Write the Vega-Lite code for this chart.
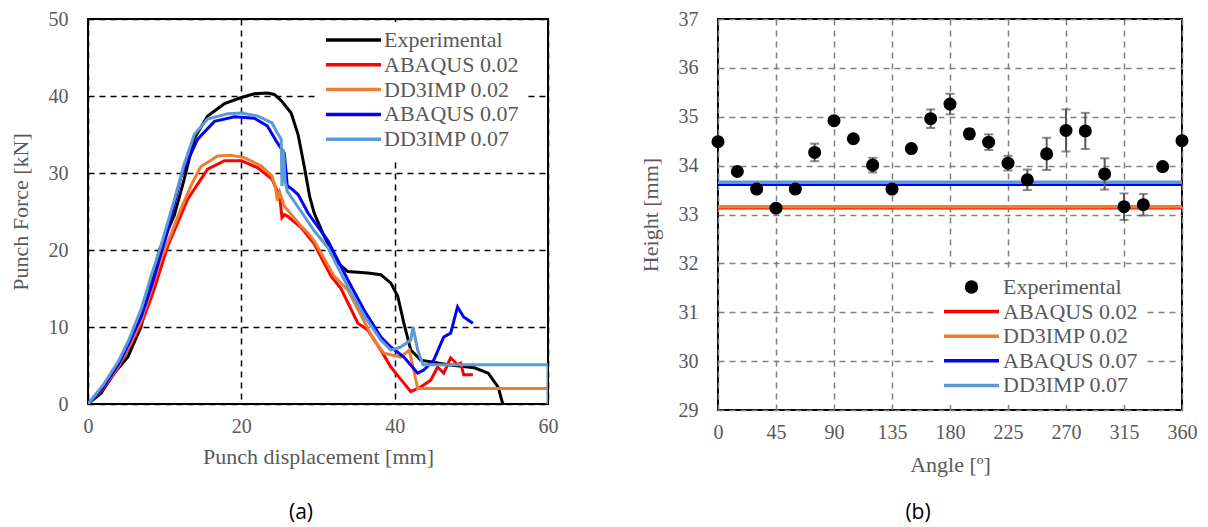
{
  "$schema": "https://vega.github.io/schema/vega-lite/v6.json",
  "padding": {"left": 8, "top": 8, "right": 5, "bottom": 5},
  "bounds": "flush",
  "spacing": 170,
  "datasets": {
    "force": [
      {"s":"Experimental","i":0,"d":0,"f":0},{"s":"Experimental","i":1,"d":1.7,"f":1.4},{"s":"Experimental","i":2,"d":3.4,"f":4},{"s":"Experimental","i":3,"d":5.2,"f":6.1},{"s":"Experimental","i":4,"d":6.9,"f":10},{"s":"Experimental","i":5,"d":8.2,"f":15.5},{"s":"Experimental","i":6,"d":9.3,"f":20},{"s":"Experimental","i":7,"d":11.26,"f":24.5},{"s":"Experimental","i":8,"d":12.5,"f":29},{"s":"Experimental","i":9,"d":13.87,"f":34.5},{"s":"Experimental","i":10,"d":15.6,"f":37.4},{"s":"Experimental","i":11,"d":17.8,"f":39},{"s":"Experimental","i":12,"d":20,"f":39.8},{"s":"Experimental","i":13,"d":21.7,"f":40.3},{"s":"Experimental","i":14,"d":23.4,"f":40.4},{"s":"Experimental","i":15,"d":24.3,"f":40.2},{"s":"Experimental","i":16,"d":25.2,"f":39.4},{"s":"Experimental","i":17,"d":26.5,"f":37.8},{"s":"Experimental","i":18,"d":27.4,"f":35},{"s":"Experimental","i":19,"d":28.2,"f":30.9},{"s":"Experimental","i":20,"d":28.9,"f":27},{"s":"Experimental","i":21,"d":29.5,"f":24.8},{"s":"Experimental","i":22,"d":30.8,"f":21.8},{"s":"Experimental","i":23,"d":32.6,"f":18.3},{"s":"Experimental","i":24,"d":33.9,"f":17.2},{"s":"Experimental","i":25,"d":36.5,"f":17},{"s":"Experimental","i":26,"d":38.2,"f":16.8},{"s":"Experimental","i":27,"d":39.5,"f":15.7},{"s":"Experimental","i":28,"d":40.4,"f":14},{"s":"Experimental","i":29,"d":41.2,"f":10.5},{"s":"Experimental","i":30,"d":42.1,"f":7},{"s":"Experimental","i":31,"d":43.4,"f":5.7},{"s":"Experimental","i":32,"d":47,"f":5.1},{"s":"Experimental","i":33,"d":50.4,"f":4.7},{"s":"Experimental","i":34,"d":52.2,"f":4},{"s":"Experimental","i":35,"d":53.5,"f":2.2},{"s":"Experimental","i":36,"d":54.1,"f":0},
      {"s":"ABAQUS 0.02","i":0,"d":0,"f":0},{"s":"ABAQUS 0.02","i":1,"d":2,"f":2},{"s":"ABAQUS 0.02","i":2,"d":4,"f":4.8},{"s":"ABAQUS 0.02","i":3,"d":5.6,"f":7.8},{"s":"ABAQUS 0.02","i":4,"d":7,"f":10.5},{"s":"ABAQUS 0.02","i":5,"d":8.5,"f":14.5},{"s":"ABAQUS 0.02","i":6,"d":10.4,"f":20.5},{"s":"ABAQUS 0.02","i":7,"d":13,"f":26.6},{"s":"ABAQUS 0.02","i":8,"d":15.6,"f":30.5},{"s":"ABAQUS 0.02","i":9,"d":17.8,"f":31.6},{"s":"ABAQUS 0.02","i":10,"d":20,"f":31.6},{"s":"ABAQUS 0.02","i":11,"d":22.1,"f":30.7},{"s":"ABAQUS 0.02","i":12,"d":24,"f":29.2},{"s":"ABAQUS 0.02","i":13,"d":25,"f":27},{"s":"ABAQUS 0.02","i":14,"d":25.3,"f":24.2},{"s":"ABAQUS 0.02","i":15,"d":25.6,"f":24.6},{"s":"ABAQUS 0.02","i":16,"d":26,"f":24.4},{"s":"ABAQUS 0.02","i":17,"d":27.8,"f":22.9},{"s":"ABAQUS 0.02","i":18,"d":29.5,"f":20.8},{"s":"ABAQUS 0.02","i":19,"d":31.7,"f":16.6},{"s":"ABAQUS 0.02","i":20,"d":33,"f":15},{"s":"ABAQUS 0.02","i":21,"d":35.2,"f":10.5},{"s":"ABAQUS 0.02","i":22,"d":36.5,"f":9.6},{"s":"ABAQUS 0.02","i":23,"d":38.2,"f":7},{"s":"ABAQUS 0.02","i":24,"d":39.5,"f":4.8},{"s":"ABAQUS 0.02","i":25,"d":40.8,"f":3.2},{"s":"ABAQUS 0.02","i":26,"d":42.1,"f":1.6},{"s":"ABAQUS 0.02","i":27,"d":43.4,"f":2.2},{"s":"ABAQUS 0.02","i":28,"d":44.7,"f":3.1},{"s":"ABAQUS 0.02","i":29,"d":45.6,"f":4.8},{"s":"ABAQUS 0.02","i":30,"d":46.4,"f":4},{"s":"ABAQUS 0.02","i":31,"d":47.3,"f":6},{"s":"ABAQUS 0.02","i":32,"d":48.2,"f":5.1},{"s":"ABAQUS 0.02","i":33,"d":48.6,"f":5.3},{"s":"ABAQUS 0.02","i":34,"d":49,"f":3.8},{"s":"ABAQUS 0.02","i":35,"d":50.2,"f":3.8},
      {"s":"DD3IMP 0.02","i":0,"d":0,"f":0},{"s":"DD3IMP 0.02","i":1,"d":2,"f":2.2},{"s":"DD3IMP 0.02","i":2,"d":4,"f":5},{"s":"DD3IMP 0.02","i":3,"d":5.6,"f":8},{"s":"DD3IMP 0.02","i":4,"d":7,"f":11},{"s":"DD3IMP 0.02","i":5,"d":8.3,"f":15},{"s":"DD3IMP 0.02","i":6,"d":9.5,"f":18.8},{"s":"DD3IMP 0.02","i":7,"d":10.8,"f":22},{"s":"DD3IMP 0.02","i":8,"d":12.1,"f":25.3},{"s":"DD3IMP 0.02","i":9,"d":13.5,"f":28.5},{"s":"DD3IMP 0.02","i":10,"d":14.7,"f":30.8},{"s":"DD3IMP 0.02","i":11,"d":16.9,"f":32.2},{"s":"DD3IMP 0.02","i":12,"d":18.6,"f":32.3},{"s":"DD3IMP 0.02","i":13,"d":20.4,"f":32},{"s":"DD3IMP 0.02","i":14,"d":22.6,"f":30.9},{"s":"DD3IMP 0.02","i":15,"d":24,"f":29.6},{"s":"DD3IMP 0.02","i":16,"d":24.5,"f":27.9},{"s":"DD3IMP 0.02","i":17,"d":24.7,"f":26.4},{"s":"DD3IMP 0.02","i":18,"d":25,"f":27.5},{"s":"DD3IMP 0.02","i":19,"d":25.6,"f":25.7},{"s":"DD3IMP 0.02","i":20,"d":27.8,"f":23.1},{"s":"DD3IMP 0.02","i":21,"d":28.7,"f":22.2},{"s":"DD3IMP 0.02","i":22,"d":29.5,"f":21.2},{"s":"DD3IMP 0.02","i":23,"d":32.1,"f":16.6},{"s":"DD3IMP 0.02","i":24,"d":33.9,"f":14.8},{"s":"DD3IMP 0.02","i":25,"d":37.3,"f":8.3},{"s":"DD3IMP 0.02","i":26,"d":38.6,"f":6.6},{"s":"DD3IMP 0.02","i":27,"d":40.8,"f":6.1},{"s":"DD3IMP 0.02","i":28,"d":41.9,"f":7},{"s":"DD3IMP 0.02","i":29,"d":42.4,"f":4.8},{"s":"DD3IMP 0.02","i":30,"d":43,"f":2},{"s":"DD3IMP 0.02","i":31,"d":60,"f":2},
      {"s":"ABAQUS 0.07","i":0,"d":0,"f":0},{"s":"ABAQUS 0.07","i":1,"d":2,"f":2.2},{"s":"ABAQUS 0.07","i":2,"d":4,"f":5.2},{"s":"ABAQUS 0.07","i":3,"d":5.4,"f":8},{"s":"ABAQUS 0.07","i":4,"d":7,"f":11.5},{"s":"ABAQUS 0.07","i":5,"d":8.5,"f":16},{"s":"ABAQUS 0.07","i":6,"d":9.5,"f":19.5},{"s":"ABAQUS 0.07","i":7,"d":10.4,"f":22.5},{"s":"ABAQUS 0.07","i":8,"d":12.1,"f":29.4},{"s":"ABAQUS 0.07","i":9,"d":13,"f":31.6},{"s":"ABAQUS 0.07","i":10,"d":14.3,"f":34.4},{"s":"ABAQUS 0.07","i":11,"d":16.5,"f":36.7},{"s":"ABAQUS 0.07","i":12,"d":19.1,"f":37.3},{"s":"ABAQUS 0.07","i":13,"d":21.7,"f":37.1},{"s":"ABAQUS 0.07","i":14,"d":23.4,"f":36.1},{"s":"ABAQUS 0.07","i":15,"d":24.7,"f":33.9},{"s":"ABAQUS 0.07","i":16,"d":25.6,"f":32.6},{"s":"ABAQUS 0.07","i":17,"d":26,"f":28.3},{"s":"ABAQUS 0.07","i":18,"d":26.5,"f":28},{"s":"ABAQUS 0.07","i":19,"d":27.4,"f":27.2},{"s":"ABAQUS 0.07","i":20,"d":28.7,"f":24.8},{"s":"ABAQUS 0.07","i":21,"d":31.3,"f":21.2},{"s":"ABAQUS 0.07","i":22,"d":33.9,"f":16.1},{"s":"ABAQUS 0.07","i":23,"d":36,"f":12.2},{"s":"ABAQUS 0.07","i":24,"d":38.2,"f":8.7},{"s":"ABAQUS 0.07","i":25,"d":39.5,"f":7.4},{"s":"ABAQUS 0.07","i":26,"d":41.2,"f":6.1},{"s":"ABAQUS 0.07","i":27,"d":43,"f":4},{"s":"ABAQUS 0.07","i":28,"d":43.8,"f":4.4},{"s":"ABAQUS 0.07","i":29,"d":45.1,"f":5.7},{"s":"ABAQUS 0.07","i":30,"d":46.4,"f":8.7},{"s":"ABAQUS 0.07","i":31,"d":47.3,"f":9.2},{"s":"ABAQUS 0.07","i":32,"d":48.2,"f":12.6},{"s":"ABAQUS 0.07","i":33,"d":49,"f":11.3},{"s":"ABAQUS 0.07","i":34,"d":50.2,"f":10.5},
      {"s":"DD3IMP 0.07","i":0,"d":0,"f":0},{"s":"DD3IMP 0.07","i":1,"d":2,"f":2.5},{"s":"DD3IMP 0.07","i":2,"d":4,"f":5.6},{"s":"DD3IMP 0.07","i":3,"d":5.4,"f":8.5},{"s":"DD3IMP 0.07","i":4,"d":7,"f":12.5},{"s":"DD3IMP 0.07","i":5,"d":8.2,"f":16.5},{"s":"DD3IMP 0.07","i":6,"d":9.5,"f":20.5},{"s":"DD3IMP 0.07","i":7,"d":11.26,"f":26.5},{"s":"DD3IMP 0.07","i":8,"d":12.5,"f":31},{"s":"DD3IMP 0.07","i":9,"d":13.87,"f":35},{"s":"DD3IMP 0.07","i":10,"d":15.6,"f":37},{"s":"DD3IMP 0.07","i":11,"d":18.2,"f":37.7},{"s":"DD3IMP 0.07","i":12,"d":20,"f":37.8},{"s":"DD3IMP 0.07","i":13,"d":22.1,"f":37.4},{"s":"DD3IMP 0.07","i":14,"d":24,"f":36.5},{"s":"DD3IMP 0.07","i":15,"d":24.7,"f":35.2},{"s":"DD3IMP 0.07","i":16,"d":25.2,"f":34.4},{"s":"DD3IMP 0.07","i":17,"d":25.3,"f":28.3},{"s":"DD3IMP 0.07","i":18,"d":25.5,"f":33},{"s":"DD3IMP 0.07","i":19,"d":25.7,"f":29},{"s":"DD3IMP 0.07","i":20,"d":26,"f":27.6},{"s":"DD3IMP 0.07","i":21,"d":27.8,"f":25},{"s":"DD3IMP 0.07","i":22,"d":29.5,"f":22.5},{"s":"DD3IMP 0.07","i":23,"d":31.3,"f":20.3},{"s":"DD3IMP 0.07","i":24,"d":33.9,"f":15.2},{"s":"DD3IMP 0.07","i":25,"d":36,"f":11.5},{"s":"DD3IMP 0.07","i":26,"d":38.2,"f":8.3},{"s":"DD3IMP 0.07","i":27,"d":39.5,"f":7},{"s":"DD3IMP 0.07","i":28,"d":40.8,"f":7.4},{"s":"DD3IMP 0.07","i":29,"d":42.1,"f":8.3},{"s":"DD3IMP 0.07","i":30,"d":42.4,"f":10},{"s":"DD3IMP 0.07","i":31,"d":43,"f":7},{"s":"DD3IMP 0.07","i":32,"d":43.7,"f":5.1},{"s":"DD3IMP 0.07","i":33,"d":60,"f":5.1},{"s":"DD3IMP 0.07","i":34,"d":60,"f":0}
    ],
    "lines": [
      {"s":"ABAQUS 0.02","a":0,"h":33.14},{"s":"ABAQUS 0.02","a":360,"h":33.14},
      {"s":"DD3IMP 0.02","a":0,"h":33.16},{"s":"DD3IMP 0.02","a":360,"h":33.16},
      {"s":"ABAQUS 0.07","a":0,"h":33.62},{"s":"ABAQUS 0.07","a":360,"h":33.62},
      {"s":"DD3IMP 0.07","a":0,"h":33.66},{"s":"DD3IMP 0.07","a":360,"h":33.66}
    ],
    "exp": [
      {"s":"Experimental","a":0,"h":34.49,"e":0.05},{"s":"Experimental","a":15,"h":33.88,"e":0.05},{"s":"Experimental","a":30,"h":33.52,"e":0.05},{"s":"Experimental","a":45,"h":33.13,"e":0.05},{"s":"Experimental","a":60,"h":33.52,"e":0.05},{"s":"Experimental","a":75,"h":34.27,"e":0.18},{"s":"Experimental","a":90,"h":34.92,"e":0.05},{"s":"Experimental","a":105,"h":34.55,"e":0.05},{"s":"Experimental","a":120,"h":34.01,"e":0.15},{"s":"Experimental","a":135,"h":33.52,"e":0.05},{"s":"Experimental","a":150,"h":34.35,"e":0.05},{"s":"Experimental","a":165,"h":34.96,"e":0.19},{"s":"Experimental","a":180,"h":35.26,"e":0.21},{"s":"Experimental","a":195,"h":34.65,"e":0.1},{"s":"Experimental","a":210,"h":34.48,"e":0.16},{"s":"Experimental","a":225,"h":34.05,"e":0.15},{"s":"Experimental","a":240,"h":33.71,"e":0.21},{"s":"Experimental","a":255,"h":34.24,"e":0.33},{"s":"Experimental","a":270,"h":34.72,"e":0.43},{"s":"Experimental","a":285,"h":34.71,"e":0.37},{"s":"Experimental","a":300,"h":33.83,"e":0.32},{"s":"Experimental","a":315,"h":33.16,"e":0.27},{"s":"Experimental","a":330,"h":33.2,"e":0.22},{"s":"Experimental","a":345,"h":33.98,"e":0.05},{"s":"Experimental","a":360,"h":34.51,"e":0.05}
    ]
  },
  "resolve": {"scale": {"color": "independent"}, "legend": {"color": "independent"}},
  "hconcat": [
    {
      "width": 460,
      "height": 385,
      "title": {"text": "(a)", "orient": "bottom", "anchor": "middle", "dx": -17, "offset": 35, "font": "Open Sans", "fontSize": 21, "fontWeight": "normal", "color": "#000000"},
      "layer": [
        {
          "data": {"name": "force"},
          "mark": {"type": "line", "strokeWidth": 3, "clip": true},
          "encoding": {
            "x": {"field": "d", "type": "quantitative", "scale": {"domain": [0, 60], "nice": false},
                  "axis": {"values": [0, 20, 40, 60], "title": "Punch displacement [mm]", "gridColor": "#000000", "labelPadding": 12, "titlePadding": 10, "labelFlush": false}},
            "y": {"field": "f", "type": "quantitative", "scale": {"domain": [0, 50], "nice": false},
                  "axis": {"values": [0, 10, 20, 30, 40, 50], "title": "Punch Force [kN]", "gridColor": "#000000", "labelPadding": 20, "titlePadding": 16}},
            "color": {"field": "s", "type": "nominal",
                      "scale": {"domain": ["Experimental", "ABAQUS 0.02", "DD3IMP 0.02", "ABAQUS 0.07", "DD3IMP 0.07"], "range": ["#000000", "#FF0000", "#ED7D31", "#0000FF", "#5B9BD5"]},
                      "legend": {"title": null, "orient": "none", "legendX": 230, "legendY": 3, "fillColor": "#FFFFFF", "symbolType": "stroke", "symbolSize": 3025, "symbolStrokeWidth": 3.5, "clipHeight": 20, "rowPadding": 2.8, "labelOffset": 4, "labelFont": "Liberation Serif", "labelFontSize": 22, "labelColor": "#595959", "padding": 8,
                                 "encode": {"symbols": {"update": {"x": {"value": 27.5}}}, "labels": {"update": {"x": {"value": 58}}}}}},
            "order": {"field": "i", "type": "quantitative"}
          }
        }
      ]
    },
    {
      "width": 464,
      "height": 391,
      "title": {"text": "(b)", "orient": "bottom", "anchor": "middle", "dx": -32, "offset": 27, "font": "Open Sans", "fontSize": 21, "fontWeight": "normal", "color": "#000000"},
      "encoding": {
        "x": {"field": "a", "type": "quantitative", "scale": {"domain": [0, 360], "nice": false},
              "axis": {"values": [0, 45, 90, 135, 180, 225, 270, 315, 360], "title": "Angle [º]", "gridColor": "#808080", "labelPadding": 12, "titlePadding": 12, "labelFlush": false}},
        "y": {"field": "h", "type": "quantitative", "scale": {"domain": [29, 37], "nice": false, "zero": false},
              "axis": {"values": [29, 30, 31, 32, 33, 34, 35, 36, 37], "title": "Height [mm]", "gridColor": "#808080", "labelPadding": 20, "titlePadding": 16}}
      },
      "layer": [
        {
          "data": {"name": "lines"},
          "mark": {"type": "line", "strokeWidth": 3.5},
          "encoding": {
            "color": {"field": "s", "type": "nominal",
                      "scale": {"domain": ["Experimental", "ABAQUS 0.02", "DD3IMP 0.02", "ABAQUS 0.07", "DD3IMP 0.07"], "range": ["#000000", "#FF0000", "#ED7D31", "#0000FF", "#5B9BD5"]},
                      "legend": {"title": null, "orient": "none", "legendX": 218, "legendY": 250, "fillColor": "#FFFFFF", "symbolType": "stroke", "symbolSize": 3025, "symbolStrokeWidth": 3.5, "clipHeight": 20, "rowPadding": 2.6, "labelOffset": 4, "labelFont": "Liberation Serif", "labelFontSize": 22, "labelColor": "#595959", "padding": 8,
                                 "encode": {"symbols": {"update": {
                                   "x": {"value": 27.5},
                                   "shape": {"signal": "datum.value === 'Experimental' ? 'circle' : 'stroke'"},
                                   "size": {"signal": "datum.value === 'Experimental' ? 180 : 3025"},
                                   "fill": {"signal": "datum.value === 'Experimental' ? '#000000' : 'transparent'"},
                                   "stroke": {"signal": "datum.value === 'Experimental' ? '#000000' : datum.value === 'ABAQUS 0.02' ? '#FF0000' : datum.value === 'DD3IMP 0.02' ? '#ED7D31' : datum.value === 'ABAQUS 0.07' ? '#0000FF' : '#5B9BD5'"},
                                   "strokeWidth": {"signal": "datum.value === 'Experimental' ? 0 : 3.5"},
                                   "opacity": {"value": 1}
                                 }}, "labels": {"update": {"x": {"value": 59}}}}}}
          }
        },
        {
          "data": {"name": "exp"},
          "mark": {"type": "errorbar", "color": "#595959", "thickness": 2, "ticks": {"size": 9, "thickness": 2, "color": "#595959"}},
          "encoding": {"yError": {"field": "e"}}
        },
        {
          "data": {"name": "exp"},
          "mark": {"type": "circle", "size": 170, "opacity": 1},
          "encoding": {
            "color": {"field": "s", "type": "nominal",
                      "scale": {"domain": ["Experimental", "ABAQUS 0.02", "DD3IMP 0.02", "ABAQUS 0.07", "DD3IMP 0.07"], "range": ["#000000", "#FF0000", "#ED7D31", "#0000FF", "#5B9BD5"]},
                      "legend": {"title": null, "orient": "none", "legendX": 218, "legendY": 250, "fillColor": "#FFFFFF", "symbolType": "stroke", "symbolSize": 3025, "symbolStrokeWidth": 3.5, "clipHeight": 20, "rowPadding": 2.6, "labelOffset": 4, "labelFont": "Liberation Serif", "labelFontSize": 22, "labelColor": "#595959", "padding": 8,
                                 "encode": {"symbols": {"update": {
                                   "x": {"value": 27.5},
                                   "shape": {"signal": "datum.value === 'Experimental' ? 'circle' : 'stroke'"},
                                   "size": {"signal": "datum.value === 'Experimental' ? 180 : 3025"},
                                   "fill": {"signal": "datum.value === 'Experimental' ? '#000000' : 'transparent'"},
                                   "stroke": {"signal": "datum.value === 'Experimental' ? '#000000' : datum.value === 'ABAQUS 0.02' ? '#FF0000' : datum.value === 'DD3IMP 0.02' ? '#ED7D31' : datum.value === 'ABAQUS 0.07' ? '#0000FF' : '#5B9BD5'"},
                                   "strokeWidth": {"signal": "datum.value === 'Experimental' ? 0 : 3.5"},
                                   "opacity": {"value": 1}
                                 }}, "labels": {"update": {"x": {"value": 59}}}}}}
          }
        }
      ]
    }
  ],
  "config": {
    "view": {"stroke": "#000000", "strokeWidth": 2},
    "axis": {"labelFont": "Liberation Serif", "labelFontSize": 20, "labelColor": "#595959", "titleFont": "Liberation Serif", "titleFontSize": 22, "titleColor": "#595959", "titleFontWeight": "normal", "domain": false, "ticks": false, "grid": true, "gridDash": [6, 5], "gridWidth": 1.5}
  }
}
